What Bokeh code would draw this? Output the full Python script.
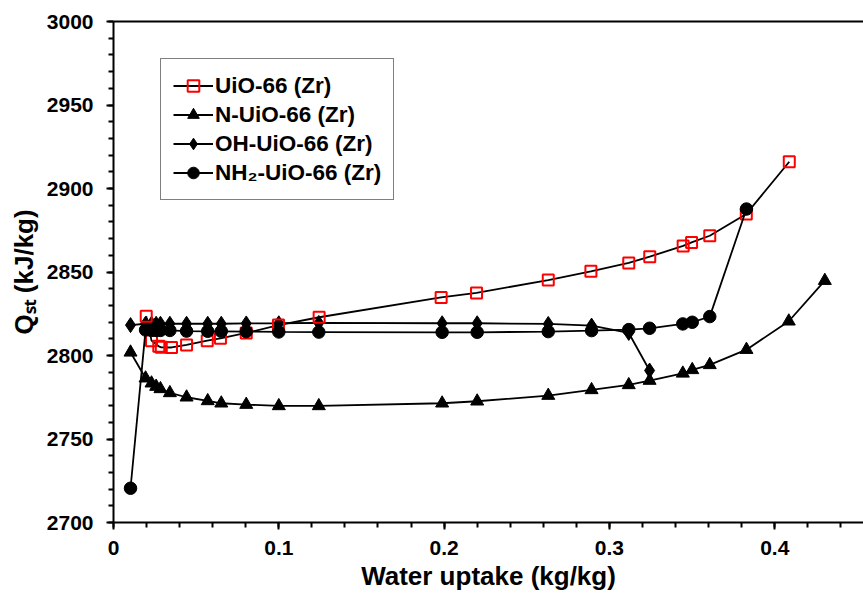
from bokeh.plotting import figure
from bokeh.models import Range1d, FixedTicker, LinearAxis, Legend, LegendItem
from bokeh.embed import file_html
from bokeh.resources import INLINE

# ---- data ----
uio_x = [0.0198, 0.0230, 0.0274, 0.0289, 0.0351, 0.0442, 0.0567, 0.0647, 0.0803, 0.0998,
         0.1244, 0.1982, 0.2196, 0.2630, 0.2888, 0.3117, 0.3244, 0.3446, 0.3497, 0.3607,
         0.3828, 0.4088]
uio_y = [2823.5, 2808.9, 2805.5, 2804.9, 2804.8, 2806.3, 2808.9, 2810.3, 2813.5, 2818.2,
         2822.9, 2834.8, 2837.5, 2845.2, 2850.4, 2855.4, 2859.2, 2865.6, 2867.7, 2871.7,
         2884.7, 2916.0]

n_x = [0.0103, 0.0194, 0.0230, 0.0258, 0.0284, 0.0341, 0.0442, 0.0570, 0.0652, 0.0803,
       0.1000, 0.1242, 0.1988, 0.2200, 0.2630, 0.2892, 0.3117, 0.3243, 0.3444, 0.3501,
       0.3607, 0.3829, 0.4085, 0.4303]
n_y = [2801.9, 2786.4, 2783.4, 2781.4, 2780.0, 2777.6, 2775.0, 2772.8, 2771.4, 2770.6,
       2769.8, 2769.8, 2771.4, 2772.6, 2776.0, 2779.4, 2782.4, 2785.0, 2789.3, 2791.4,
       2794.4, 2803.5, 2820.5, 2844.8]

oh_x = [0.0103, 0.0194, 0.0230, 0.0258, 0.0284, 0.0341, 0.0442, 0.0570, 0.0652, 0.0803,
        0.1000, 0.1242, 0.1988, 0.2200, 0.2630, 0.2892, 0.3117, 0.3243]
oh_y = [2818.2, 2819.0, 2819.0, 2819.0, 2819.0, 2819.0, 2819.0, 2819.0, 2819.0, 2819.2,
        2819.3, 2819.5, 2819.3, 2819.3, 2818.9, 2817.9, 2813.5, 2791.0]

nh2_x = [0.0103, 0.0194, 0.0230, 0.0258, 0.0284, 0.0341, 0.0442, 0.0570, 0.0652, 0.0803,
         0.1000, 0.1242, 0.1988, 0.2200, 0.2630, 0.2892, 0.3117, 0.3243, 0.3444, 0.3501,
         0.3607, 0.3829]
nh2_y = [2720.5, 2815.3, 2815.0, 2815.0, 2815.0, 2815.0, 2814.6, 2814.5, 2814.5, 2814.3,
         2814.1, 2814.0, 2813.9, 2813.9, 2814.3, 2814.9, 2815.5, 2816.3, 2818.9, 2819.9,
         2823.3, 2887.7]

series_names = ["UiO-66 (Zr)", "N-UiO-66 (Zr)", "OH-UiO-66 (Zr)", "NH\u2082-UiO-66 (Zr)"]
x_ticks = [0, 0.1, 0.2, 0.3, 0.4]
x_tick_labels = ["0", "0.1", "0.2", "0.3", "0.4"]
y_ticks = [2700, 2750, 2800, 2850, 2900, 2950, 3000]

FONT = "Liberation Sans"

p = figure(width=863, height=596, output_backend="svg", toolbar_location=None,
           x_range=Range1d(0, 0.4537), y_range=Range1d(2700, 3000),
           min_border_left=113, min_border_right=0, min_border_top=21, min_border_bottom=74)
p.background_fill_color = "white"
p.border_fill_color = "white"
p.outline_line_color = None
p.xgrid.visible = False
p.ygrid.visible = False

# axes
p.xaxis.ticker = FixedTicker(ticks=x_ticks, minor_ticks=[round(0.02 * i, 2) for i in range(0, 23)])
p.xaxis.major_label_overrides = {t: s for t, s in zip(x_ticks, x_tick_labels)}
p.yaxis.ticker = FixedTicker(ticks=y_ticks, minor_ticks=list(range(2700, 3001, 10)))
for ax in (p.xaxis[0], p.yaxis[0]):
    ax.axis_line_width = 2
    ax.axis_line_color = "black"
    ax.major_tick_line_width = 2
    ax.minor_tick_line_width = 2
    ax.major_tick_in = 0
    ax.minor_tick_in = 0
    ax.major_tick_out = 7
    ax.minor_tick_out = 5
    ax.major_label_text_font = FONT
    ax.major_label_text_font_style = "bold"
    ax.major_label_text_font_size = "21px"
    ax.major_label_text_color = "black"
    ax.axis_label_text_font = FONT
    ax.axis_label_text_font_style = "bold"
    ax.axis_label_text_font_size = "26px"
    ax.axis_label_text_color = "black"

p.xaxis.axis_label = "Water uptake (kg/kg)"
p.yaxis.axis_label = "Q\u209b\u209c (kJ/kg)"
p.xaxis.major_label_standoff = 11
p.xaxis.axis_label_standoff = 3
p.yaxis.major_label_standoff = 13
p.yaxis.axis_label_standoff = 5

top = LinearAxis(ticker=FixedTicker(ticks=[]), axis_line_width=2, axis_line_color="black",
                 major_tick_line_color=None, minor_tick_line_color=None,
                 major_label_text_font_size="0px", major_label_standoff=0)
p.add_layout(top, "above")

LW = 1.8
# series (draw order: N, OH, UiO, NH2)
ln_n = p.line(n_x, n_y, line_color="black", line_width=LW)
sc_n = p.scatter(n_x, n_y, marker="triangle", size=13, fill_color="black", line_color="black")

ln_oh = p.line(oh_x, oh_y, line_color="black", line_width=LW)
sc_oh = p.scatter(oh_x, oh_y, marker="diamond", size=15, fill_color="black", line_color="black")

ln_u = p.line(uio_x, uio_y, line_color="black", line_width=LW)
sc_u = p.scatter(uio_x, uio_y, marker="square", size=11, fill_color=None, line_color="#FF0000", line_width=2)

ln_nh = p.line(nh2_x, nh2_y, line_color="black", line_width=LW)
sc_nh = p.scatter(nh2_x, nh2_y, marker="circle", size=12.5, fill_color="black", line_color="black")

legend = Legend(items=[
    LegendItem(label=series_names[0], renderers=[ln_u, sc_u]),
    LegendItem(label=series_names[1], renderers=[ln_n, sc_n]),
    LegendItem(label=series_names[2], renderers=[ln_oh, sc_oh]),
    LegendItem(label=series_names[3], renderers=[ln_nh, sc_nh]),
], location=(47, 322))
legend.label_text_font = FONT
legend.label_text_font_style = "bold"
legend.label_text_font_size = "22.5px"
legend.label_text_color = "black"
legend.border_line_color = "black"
legend.border_line_width = 1.5
legend.padding = 12
legend.spacing = 0
legend.margin = 0
legend.glyph_width = 40
legend.glyph_height = 29
legend.label_height = 29
legend.label_standoff = 2
legend.background_fill_alpha = 1
p.add_layout(legend, "center")

open("out.html", "w").write(file_html(p, INLINE))
